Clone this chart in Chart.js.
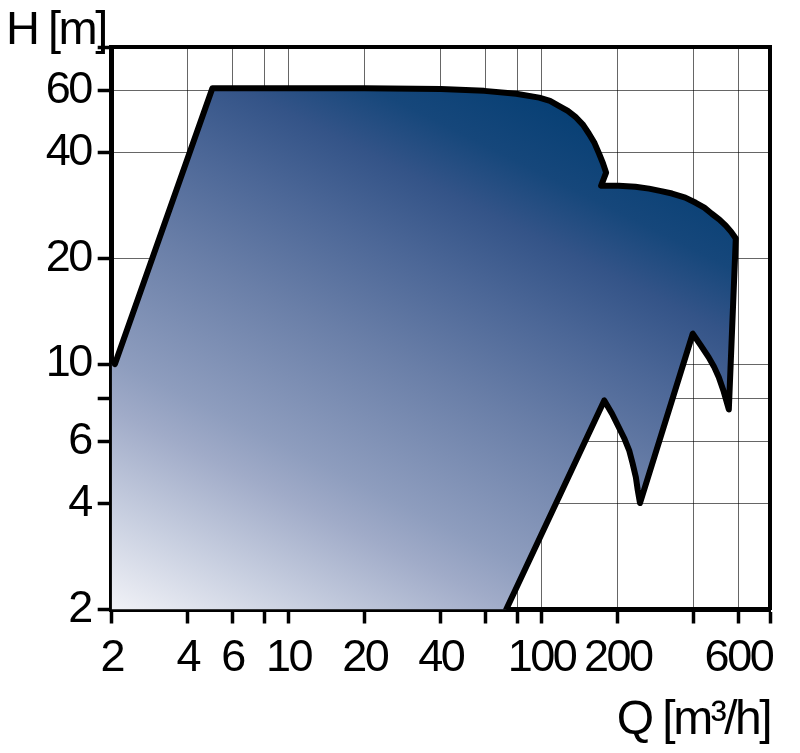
<!DOCTYPE html>
<html><head><meta charset="utf-8">
<script src="https://cdn.jsdelivr.net/npm/chart.js@4.4.1/dist/chart.umd.min.js"></script>
<style>html,body{margin:0;padding:0;background:#fff;} #wrap{width:800px;height:753px;}</style>
</head><body><div id="wrap"><canvas id="c" width="800" height="753"></canvas></div>
<script>
// Outline of the operating range (Q in m3/h, H in m)
const outlineQ = [2.06, 5.0, 10, 20, 40, 59.4, 79.4, 97.9, 108, 117, 127, 137, 146, 154, 162, 169, 175, 180, 172, 202, 235, 266, 297, 328, 370, 407, 440, 471, 505, 535, 562, 586, 550, 525, 502, 480, 458, 426, 396, 245, 240, 236, 229, 222, 212, 202, 190, 177, 72.5];
const outlineH = [10.0, 61, 61, 61, 60.7, 60.0, 58.9, 57.4, 56.2, 54.4, 52.6, 50.4, 48.0, 45.3, 42.6, 39.7, 37.3, 35.1, 32.2, 32.2, 32.0, 31.6, 31.1, 30.6, 29.8, 28.8, 27.9, 26.8, 25.8, 24.8, 23.8, 22.8, 7.43, 8.35, 9.17, 9.85, 10.45, 11.3, 12.2, 4.02, 4.38, 4.76, 5.22, 5.68, 6.16, 6.61, 7.22, 7.88, 2];
// corner of the filled area on the axes
const cornerQ = [2, 2];
const cornerH = [2, 10];

const xTicks = [2, 4, 6, 8, 10, 20, 40, 60, 80, 100, 200, 400, 600, 800];
const xLabels = ['2', '4', '6', '', '10', '20', '40', '', '', '100', '200', '', '600', ''];
const yTicks = [2, 4, 6, 8, 10, 20, 40, 60, 80];
const yLabels = ['2', '4', '6', '', '10', '20', '40', '60', ''];

const FONT = "'Liberation Sans', Arial, sans-serif";

const outlinePts = outlineQ.map((q, i) => ({x: q, y: outlineH[i]}));
const fillPts = cornerQ.map((q, i) => ({x: q, y: cornerH[i]})).concat(outlinePts);

function gradient(ctx) {
  const chart = ctx.chart;
  const a = chart.chartArea;
  if (!a) return 'rgba(0,0,0,0)';
  const w = a.right - a.left, h = a.bottom - a.top;
  const g = chart.ctx.createLinearGradient(a.left, a.bottom, a.left + 0.507 * w, a.bottom - 1.187 * h);
  g.addColorStop(0.0, '#f1f2f7');
  g.addColorStop(0.12, '#c8cfe0');
  g.addColorStop(0.24, '#a0abc8');
  g.addColorStop(0.30, '#8e9dbe');
  g.addColorStop(0.47, '#6a7fa8');
  g.addColorStop(0.60, '#4c6797');
  g.addColorStop(0.70, '#345488');
  g.addColorStop(0.78, '#16477b');
  g.addColorStop(0.88, '#063f74');
  g.addColorStop(1.0, '#003a70');
  return g;
}

// condensed look for the Helvetica-Narrow-like lettering
const narrowText = {
  id: 'narrowText',
  beforeUpdate(chart) { chart.ctx.letterSpacing = '-3.5px'; },
  beforeDraw(chart) { chart.ctx.letterSpacing = '-2.5px'; },
  beforeDatasetsDraw(chart) { chart.ctx.letterSpacing = '-3.5px'; }
};

const tickFont = {family: FONT, size: 45, lineHeight: 1};
const gridCommon = {
  color: 'rgba(0,0,0,0.6)', lineWidth: 1,
  drawTicks: true, tickLength: 14, tickColor: '#000', tickWidth: 3.5
};

new Chart(document.getElementById('c'), {
  type: 'scatter',
  plugins: [narrowText],
  data: {
    datasets: [
      {
        data: outlinePts, showLine: true, fill: false, order: 0,
        borderColor: '#000', borderWidth: 6, borderJoinStyle: 'round', borderCapStyle: 'round',
        pointRadius: 0, tension: 0
      },
      {
        data: fillPts, showLine: true, fill: 'shape', order: 1,
        backgroundColor: gradient, borderWidth: 0, borderColor: 'rgba(0,0,0,0)',
        pointRadius: 0, tension: 0
      }
    ]
  },
  options: {
    responsive: false,
    animation: false,
    events: [],
    layout: {padding: {left: 6, right: 30, top: 0, bottom: 0}},
    plugins: {
      legend: {display: false},
      tooltip: {enabled: false},
      title: {
        display: true, text: 'H [m]', align: 'start', color: '#000',
        font: {family: FONT, size: 47, weight: 'normal', lineHeight: 1},
        padding: {top: 8, bottom: -8}
      }
    },
    scales: {
      x: {
        type: 'logarithmic', position: 'bottom', min: 2, max: 800, z: 1,
        afterBuildTicks: s => { s.ticks = xTicks.map(v => ({value: v})); },
        afterFit: s => { s.height = 143.5; },
        ticks: {
          autoSkip: false, maxRotation: 0, minRotation: 0, color: '#000', font: tickFont, padding: 13,
          callback: (v, i) => xLabels[i]
        },
        grid: gridCommon,
        border: {display: true, width: 5, color: '#000'},
        title: {
          display: true, text: 'Q [m³/h]', align: 'end', color: '#000',
          font: {family: FONT, size: 48, lineHeight: 1}, padding: {top: 0, bottom: 8}
        }
      },
      y: {
        type: 'logarithmic', position: 'left', min: 2, max: 80, z: 1,
        afterBuildTicks: s => { s.ticks = yTicks.map(v => ({value: v})); },
        afterFit: s => { s.width = 105.7; },
        ticks: {
          autoSkip: false, color: '#000', font: tickFont, padding: 7,
          callback: (v, i) => yLabels[i]
        },
        grid: gridCommon,
        border: {display: true, width: 5, color: '#000'}
      },
      x2: {
        type: 'logarithmic', position: 'top', min: 2, max: 800, z: 1,
        afterFit: s => { s.height = 0; },
        ticks: {display: false},
        grid: {display: false, drawTicks: false},
        border: {display: true, width: 4, color: '#000'}
      },
      y2: {
        type: 'logarithmic', position: 'right', min: 2, max: 80, z: 1,
        afterFit: s => { s.width = 0; },
        ticks: {display: false},
        grid: {display: false, drawTicks: false},
        border: {display: true, width: 4, color: '#000'}
      }
    }
  }
});
</script>
</body></html>
